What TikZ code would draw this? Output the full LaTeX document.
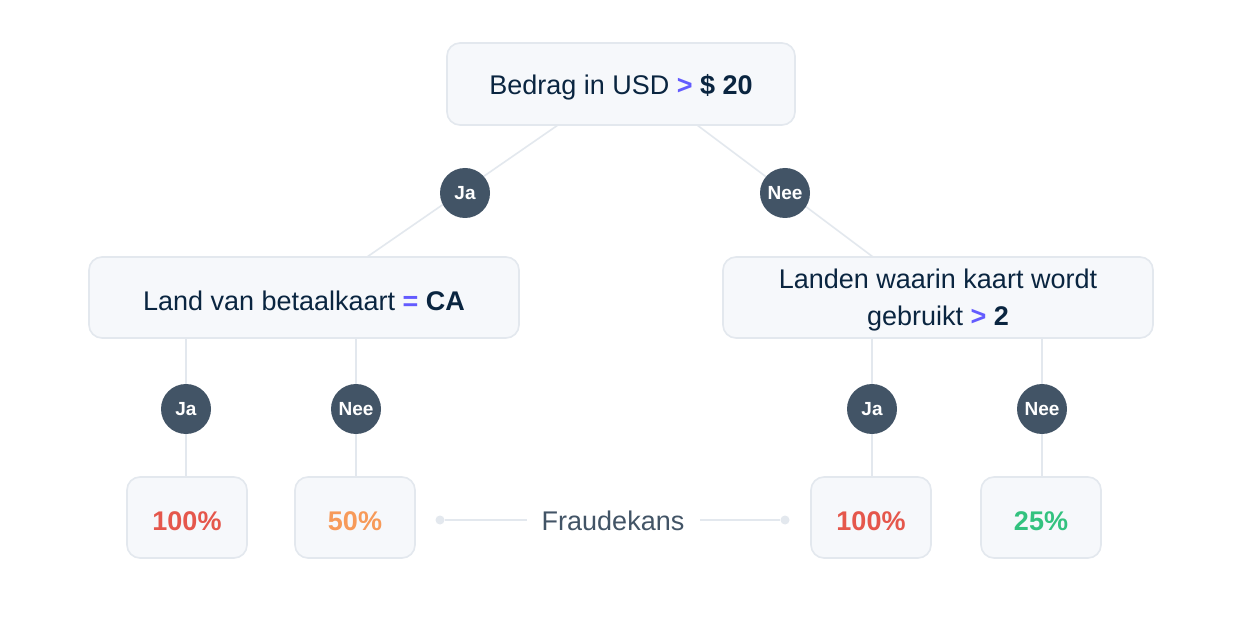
\documentclass[tikz,border=0pt]{standalone}
\usepackage{fontspec}
\setmainfont{Liberation Sans}
\definecolor{navy}{HTML}{0A2540}
\definecolor{purp}{HTML}{635BFF}
\definecolor{boxfill}{HTML}{F6F8FB}
\definecolor{boxline}{HTML}{E3E8EE}
\definecolor{slate}{HTML}{425466}
\definecolor{redp}{HTML}{E5574C}
\definecolor{orangep}{HTML}{F79A59}
\definecolor{greenp}{HTML}{33C27F}
\tikzset{
  card/.style={draw=boxline, line width=1.6pt, fill=boxfill, rounded corners=13pt},
  conn/.style={draw=boxline, line width=1.6pt},
  badge/.style={circle, fill=slate, minimum size=50pt, inner sep=0pt, text=white, font=\fontsize{19}{22}\selectfont\bfseries},
  maintext/.style={text=navy, font=\fontsize{27}{37}\selectfont, align=center},
  pct/.style={font=\fontsize{27}{30}\selectfont\bfseries},
  dotend/.style={circle, fill=boxline, minimum size=9pt, inner sep=0pt}
}
\newcommand{\gt}{\textcolor{purp}{\textbf{>}}}
\begin{document}
\begin{tikzpicture}[x=1pt,y=-1pt]
\useasboundingbox[fill=white] (0,0) rectangle (1240,636);
% boxes (shapes)
\path[card] (447,43) rectangle (795,125);
\path[card] (89,257) rectangle (519,338);
\path[card] (723,257) rectangle (1153,338);
\path[card] (127,477) rectangle (247,558);
\path[card] (295,477) rectangle (415,558);
\path[card] (811,477) rectangle (931,558);
\path[card] (981,477) rectangle (1101,558);
% anchor coordinates
\coordinate (topL) at (558,125);
\coordinate (topR) at (697,125);
\coordinate (lboxT) at (367,257);
\coordinate (rboxT) at (873,257);
\coordinate (l1) at (186,338);
\coordinate (l2) at (356,338);
\coordinate (r1) at (872,338);
\coordinate (r2) at (1042,338);
\coordinate (b1) at (186,477);
\coordinate (b2) at (356,477);
\coordinate (b3) at (872,477);
\coordinate (b4) at (1042,477);
% connectors
\draw[conn] (topL) -- (lboxT);
\draw[conn] (topR) -- (rboxT);
\draw[conn] (l1) -- (b1);
\draw[conn] (l2) -- (b2);
\draw[conn] (r1) -- (b3);
\draw[conn] (r2) -- (b4);
% badges
\node[badge] (ja1) at (465,193) {Ja};
\node[badge] (nee1) at (785,193) {Nee};
\node[badge] (ja2) at (186,409) {Ja};
\node[badge] (nee2) at (356,409) {Nee};
\node[badge] (ja3) at (872,409) {Ja};
\node[badge] (nee3) at (1042,409) {Nee};
% texts
\node[maintext] (t0) at (621,87) {Bedrag in USD \gt\ \textbf{\$ 20}};
\node[maintext] (t1) at (304,301) {Land van betaalkaart \textcolor{purp}{\textbf{=}} \textbf{CA}};
\node[maintext] (t2) at (938,300) {Landen waarin kaart wordt\\gebruikt \gt\ \textbf{2}};
\node[pct, text=redp] (p1) at (187,521) {100\%};
\node[pct, text=orangep] (p2) at (355,521) {50\%};
\node[pct, text=redp] (p3) at (871,521) {100\%};
\node[pct, text=greenp] (p4) at (1041,521) {25\%};
% legend
\node[text=slate, font=\fontsize{27}{30}\selectfont] (fk) at (613,521) {Fraudekans};
\node[dotend] (dl) at (440,520) {};
\node[dotend] (dr) at (785,520) {};
\coordinate (fkl) at (527,520);
\coordinate (fkr) at (700,520);
\draw[conn] (dl) -- (fkl);
\draw[conn] (fkr) -- (dr);
\end{tikzpicture}
\end{document}
